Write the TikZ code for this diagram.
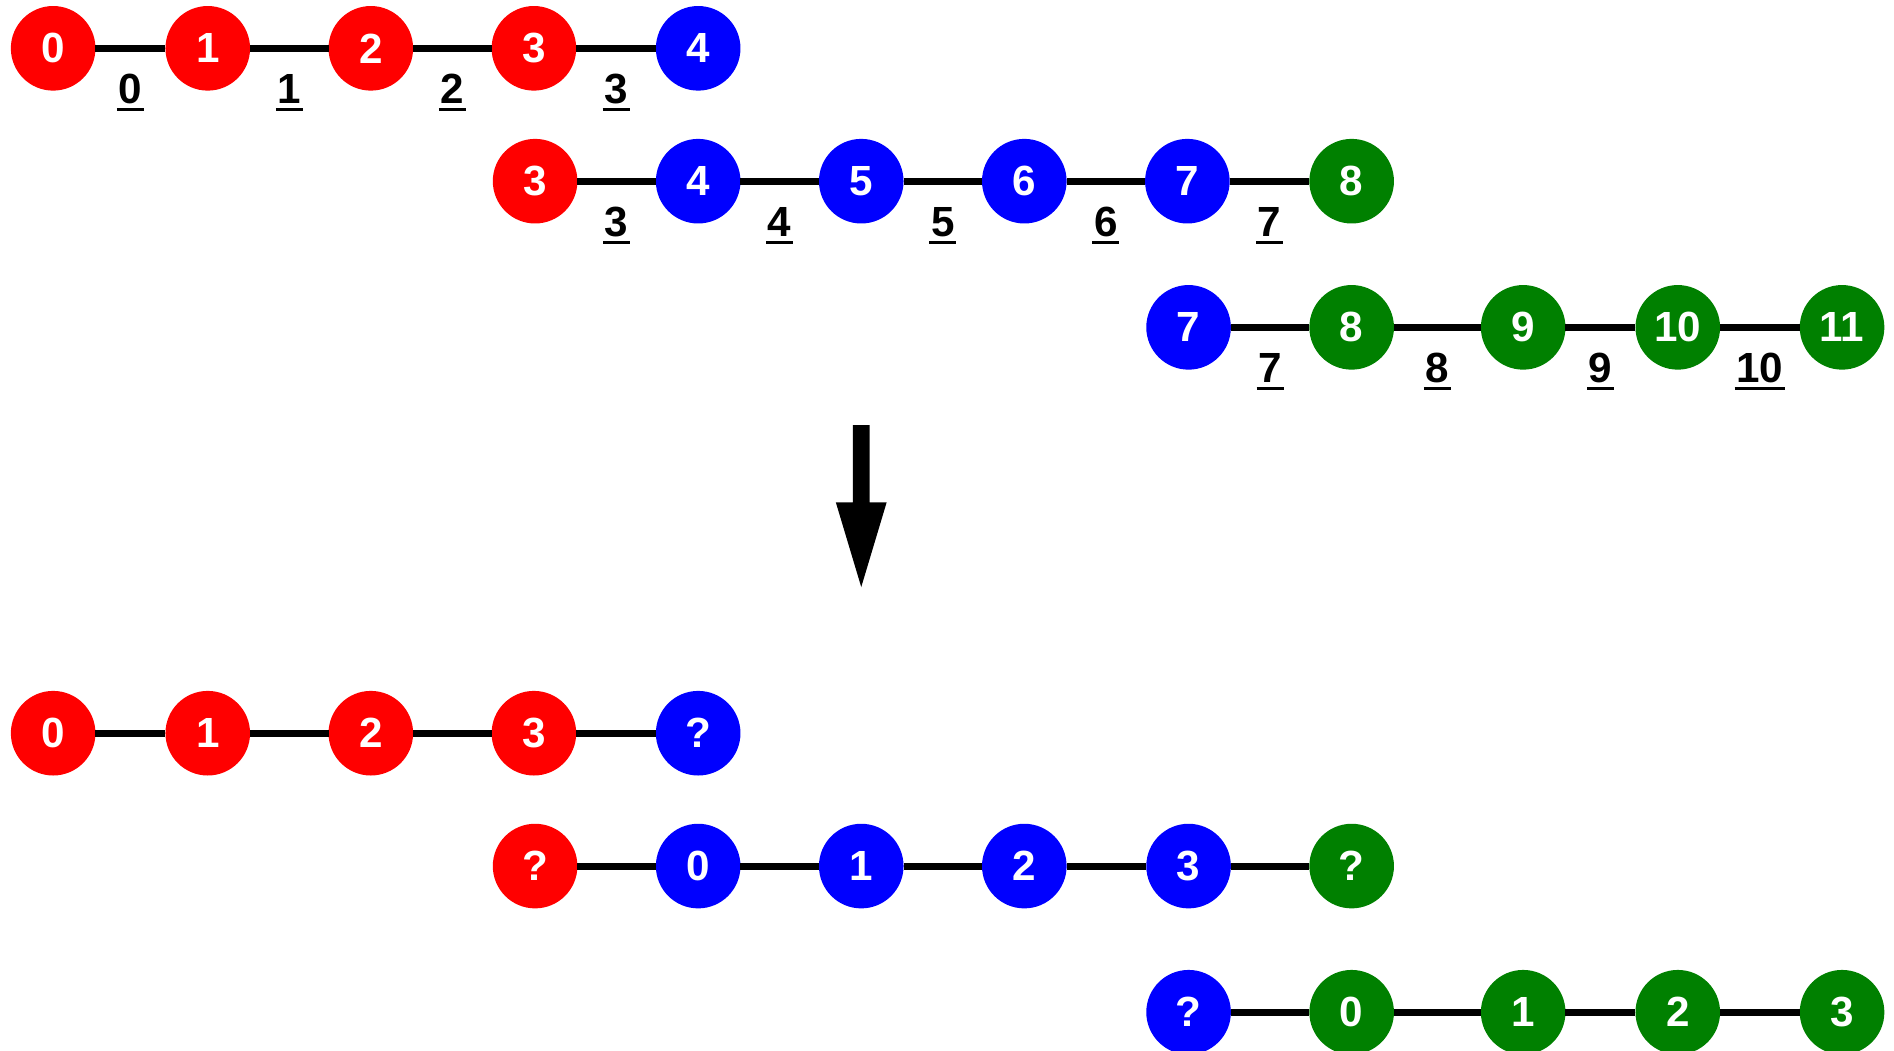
\documentclass[tikz,border=0pt]{standalone}
\usepackage{fontspec}
\setmainfont{Liberation Sans}
\usetikzlibrary{positioning}
\definecolor{dgreen}{RGB}{0,128,0}
\newcommand{\uln}[1]{\setbox0\hbox{#1}\rlap{\hspace{-0.5pt}\rule[-2.2pt]{\dimexpr\wd0+1pt\relax}{0.8pt}}\box0}

\begin{document}
\begin{tikzpicture}[x=0.12079mm, y=-0.12079mm, line width=2pt,
every node/.style={font=\fontsize{12}{14}\selectfont\bfseries},
vr/.style={circle, fill=red, text=white, minimum size=8.46mm, inner sep=0pt, outer sep=0pt},
vb/.style={vr, fill=blue},
vg/.style={vr, fill=dgreen},
lbl/.style={anchor=base, yshift=-5.5mm}]
        \useasboundingbox (0,0) rectangle (1568,870);
        % upper part
        \node [vr] (a0) at (44,40) {0};
        \node [vr] (a1) at (172,40) {1};
        \node [vr] (a2) at (307,40) {2};
        \node [vr] (a3) at (442,40) {3};
        \node [vb] (a4) at (578,40) {4};
        \path (a0) edge node [lbl] {\uln{0}} (a1);
        \path (a1) edge node [lbl] {\uln{1}} (a2);
        \path (a2) edge node [lbl] {\uln{2}} (a3);
        \path (a3) edge node [lbl] {\uln{3}} (a4);

        \node [vr] (b3) at (443,150) {3};
        \node [vb] (b4) at (578,150) {4};
        \node [vb] (b5) at (713,150) {5};
        \node [vb] (b6) at (848,150) {6};
        \node [vb] (b7) at (983,150) {7};
        \node [vg] (b8) at (1119,150) {8};
        \path (b3) edge node [lbl] {\uln{3}} (b4);
        \path (b4) edge node [lbl] {\uln{4}} (b5);
        \path (b5) edge node [lbl] {\uln{5}} (b6);
        \path (b6) edge node [lbl] {\uln{6}} (b7);
        \path (b7) edge node [lbl] {\uln{7}} (b8);

        \node [vb] (c7) at (984,271) {7};
        \node [vg] (c8) at (1119,271) {8};
        \node [vg] (c9) at (1261,271) {9};
        \node [vg] (c10) at (1389,271) {10};
        \node [vg] (c11) at (1525,271) {11};
        \path (c7) edge node [lbl] {\uln{7}} (c8);
        \path (c8) edge node [lbl] {\uln{8}} (c9);
        \path (c9) edge node [lbl] {\uln{9}} (c10);
        \path (c10) edge node [lbl] {\uln{10}} (c11);

        % arrow
        \fill (706,352) -- (720,352) -- (720,416) -- (734,416) -- (713,486)
              -- (692,416) -- (706,416) -- cycle;

        % lower part
        \node [vr] (d0) at (44,607) {0};
        \node [vr] (d1) at (172,607) {1};
        \node [vr] (d2) at (307,607) {2};
        \node [vr] (d3) at (442,607) {3};
        \node [vb] (d4) at (578,607) {?};
        \path (d0) edge (d1) (d1) edge (d2) (d2) edge (d3) (d3) edge (d4);

        \node [vr] (e0) at (443,717) {?};
        \node [vb] (e1) at (578,717) {0};
        \node [vb] (e2) at (713,717) {1};
        \node [vb] (e3) at (848,717) {2};
        \node [vb] (e4) at (984,717) {3};
        \node [vg] (e5) at (1119,717) {?};
        \path (e0) edge (e1) (e1) edge (e2) (e2) edge (e3) (e3) edge (e4) (e4) edge (e5);

        \node [vb] (f0) at (984,838) {?};
        \node [vg] (f1) at (1119,838) {0};
        \node [vg] (f2) at (1261,838) {1};
        \node [vg] (f3) at (1389,838) {2};
        \node [vg] (f4) at (1525,838) {3};
        \path (f0) edge (f1) (f1) edge (f2) (f2) edge (f3) (f3) edge (f4);
    \end{tikzpicture}
\end{document}
